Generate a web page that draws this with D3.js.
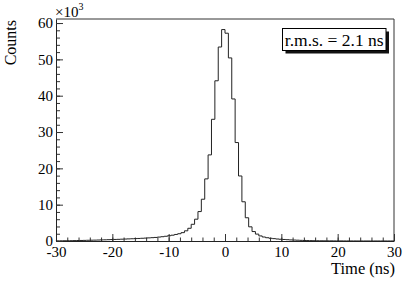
<!DOCTYPE html>
<html lang="en">
<head>
    <meta charset="UTF-8">
    <title>Time distribution</title>
    <script src="https://cdnjs.cloudflare.com/ajax/libs/d3/7.8.5/d3.min.js"></script>
    <style>
        body { margin: 0; background: #fff; }
        svg { display: block; font-family: "Liberation Serif", "DejaVu Serif", serif; }
    </style>
</head>
<body>
    <svg width="415" height="281"></svg>

    <script>
        // histogram: 100 bins of 0.6 ns from -30 to 30, counts in units of 10^3
        const binLow = -30;
        const binWidth = 0.6;
        const counts = [
            0.05, 0.06, 0.07, 0.08, 0.09, 0.11, 0.13, 0.15, 0.17, 0.20,
            0.22, 0.24, 0.27, 0.30, 0.33, 0.36, 0.40, 0.43, 0.46, 0.50,
            0.54, 0.58, 0.62, 0.66, 0.70, 0.75, 0.80, 0.86, 0.92, 0.98,
            1.08, 1.18, 1.30, 1.45, 1.60, 1.80, 2.00, 2.30, 2.80, 3.50,
            4.60, 6.00, 8.10, 11.5, 17.1, 23.7, 33.5, 44.1, 53.4, 58.2,
            57.2, 50.4, 39.1, 27.1, 17.9, 10.8, 6.40, 3.90, 2.60, 1.90,
            1.40, 1.10, 0.90, 0.75, 0.65, 0.55, 0.48, 0.42, 0.36, 0.30,
            0.26, 0.22, 0.18, 0.15, 0.12, 0.10, 0.08, 0.07, 0.06, 0.05,
            0.04, 0.04, 0.03, 0.03, 0.03, 0.02, 0.02, 0.02, 0.02, 0.01,
            0.01, 0.01, 0.01, 0.01, 0.01, 0.01, 0.01, 0.01, 0.01, 0.01
        ];
        const xMajor = [-30, -20, -10, 0, 10, 20, 30];
        const yMajor = [0, 10, 20, 30, 40, 50, 60];
        const legendText = 'r.m.s. = 2.1 ns';

        const frame = { left: 56, right: 394, top: 19, bottom: 241 };
        const svg = d3.select('svg');

        const x = d3.scaleLinear().domain([-30, 30]).range([frame.left, frame.right]);
        const y = d3.scaleLinear().domain([0, d3.max(counts) * 1.05]).range([frame.bottom, frame.top]);

        // frame
        svg.append('path')
            .attr('d', `M${frame.left},${frame.top}H${frame.right}V${frame.bottom}`)
            .attr('fill', 'none')
            .attr('stroke', '#333')
            .attr('stroke-width', 1);

        // minor ticks
        const xMinor = d3.range(-30, 30.01, 2);
        svg.append('g')
            .attr('transform', `translate(0, ${frame.bottom})`)
            .call(d3.axisBottom(x).tickValues(xMinor).tickSize(-3.5).tickSizeOuter(0).tickFormat(''))
            .call(g => g.select('.domain').remove());
        const yMinor = d3.range(0, y.domain()[1], 2);
        svg.append('g')
            .attr('transform', `translate(${frame.left}, 0)`)
            .call(d3.axisLeft(y).tickValues(yMinor).tickSize(-4).tickSizeOuter(0).tickFormat(''))
            .call(g => g.select('.domain').remove());

        // major axes (plain hyphen for negatives, like the original)
        const fmt = d => String(d);
        const xAxis = svg.append('g')
            .attr('transform', `translate(0, ${frame.bottom})`)
            .call(d3.axisBottom(x).tickValues(xMajor).tickFormat(fmt)
                .tickSize(-7).tickSizeOuter(0).tickPadding(5));
        const yAxis = svg.append('g')
            .attr('transform', `translate(${frame.left}, 0)`)
            .call(d3.axisLeft(y).tickValues(yMajor).tickFormat(fmt)
                .tickSize(-7).tickSizeOuter(0).tickPadding(3));

        [xAxis, yAxis].forEach(g => {
            g.attr('font-family', null).attr('font-size', null);
            g.selectAll('text').attr('font-size', 15).attr('fill', '#000');
        });
        svg.selectAll('.tick line').attr('stroke', '#333');
        svg.selectAll('.domain').attr('stroke', '#222');

        // histogram outline
        const pts = [[x(binLow), y(0)]];
        counts.forEach((c, i) => {
            pts.push([x(binLow + i * binWidth), y(c)]);
            pts.push([x(binLow + (i + 1) * binWidth), y(c)]);
        });
        pts.push([x(binLow + counts.length * binWidth), y(0)]);
        svg.append('path')
            .attr('d', d3.line()(pts))
            .attr('fill', 'none')
            .attr('stroke', '#222')
            .attr('stroke-width', 1);

        // legend box
        const bx = 282.5, by = 28.5, bw = 103.5, bh = 22;
        svg.append('rect')
            .attr('x', bx + 3).attr('y', by + 3)
            .attr('width', bw).attr('height', bh)
            .attr('fill', '#111');
        svg.append('rect')
            .attr('x', bx).attr('y', by)
            .attr('width', bw).attr('height', bh)
            .attr('fill', '#fff')
            .attr('stroke', '#000');
        svg.append('text')
            .attr('x', bx + bw / 2).attr('y', 46)
            .attr('text-anchor', 'middle')
            .attr('font-size', 17.5)
            .text(legendText);

        // titles
        svg.append('text')
            .attr('transform', 'translate(16, 20) rotate(-90)')
            .attr('text-anchor', 'end')
            .attr('font-size', 16)
            .text('Counts');
        svg.append('text')
            .attr('x', 395).attr('y', 274)
            .attr('text-anchor', 'end')
            .attr('font-size', 16.5)
            .text('Time (ns)');
        const mult = svg.append('text')
            .attr('x', 55).attr('y', 17)
            .attr('font-size', 15)
            .text('\u00d710');
        mult.append('tspan')
            .attr('dy', -7)
            .attr('font-size', 10)
            .text('3');
    </script>
</body>
</html>
